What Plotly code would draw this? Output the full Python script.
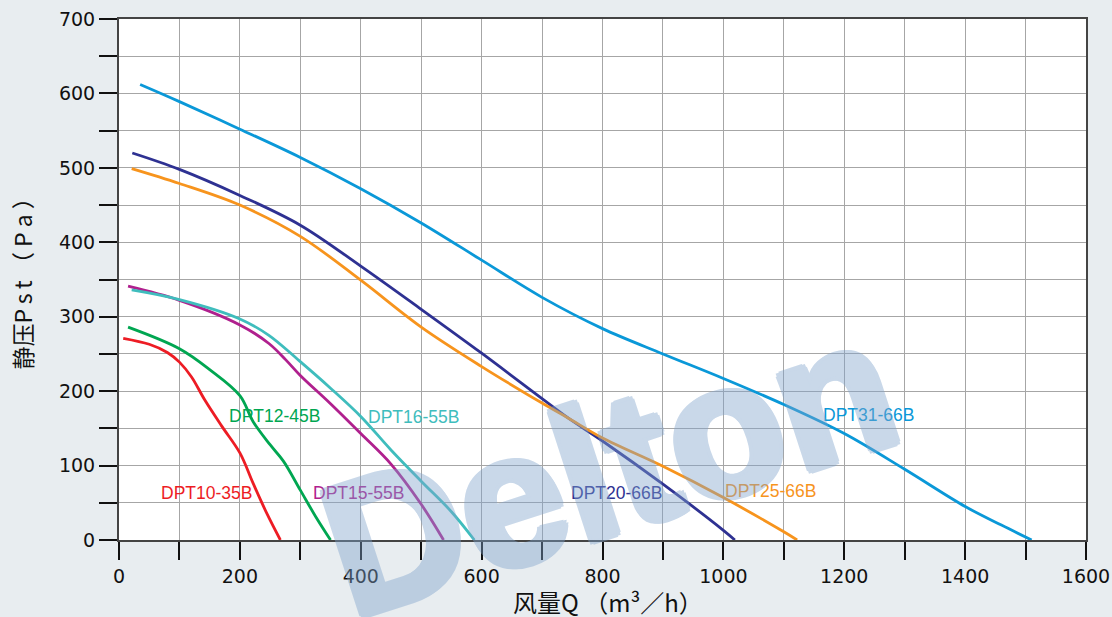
import plotly.graph_objects as go

# ---- data ----
q10 = [7, 50, 80, 100, 120, 142, 170, 200, 222, 245, 267]
p10 = [271, 263, 252, 239, 219, 188, 153, 117, 76, 35, 0]

q12 = [15, 100, 150, 200, 222, 250, 272, 300, 325, 350]
p12 = [286, 257, 229, 194, 159, 128, 106, 67, 32, 0]

q15 = [15, 100, 200, 248, 276, 300, 350, 400, 450, 500, 537]
p15 = [341, 322, 289, 264, 242, 221, 183, 143, 102, 48, 0]

q16 = [21, 100, 200, 248, 298, 350, 400, 450, 500, 550, 588]
p16 = [336, 323, 297, 275, 241, 204, 166, 121, 79, 38, 0]

q20 = [22, 100, 200, 300, 400, 500, 600, 700, 743, 800, 900, 1000, 1019]
p20 = [520, 498, 463, 423, 368, 310, 251, 190, 164, 133, 75, 13, 0]

q25 = [21, 100, 200, 300, 400, 500, 600, 700, 743, 800, 900, 1000, 1100, 1122]
p25 = [499, 479, 450, 408, 349, 286, 233, 184, 164, 137, 99, 57, 11, 0]

q31 = [35, 100, 200, 300, 400, 500, 600, 700, 800, 900, 1000, 1100, 1200, 1300, 1400, 1460, 1510]
p31 = [612, 589, 552, 514, 472, 426, 376, 326, 284, 250, 217, 182, 143, 95, 45, 20, 0]

series_names = ["DPT10-35B", "DPT12-45B", "DPT15-55B", "DPT16-55B", "DPT20-66B", "DPT25-66B", "DPT31-66B"]
series_q = [q10, q12, q15, q16, q20, q25, q31]
series_p = [p10, p12, p15, p16, p20, p25, p31]
colors = ["#ed1c24", "#00a651", "#b0208e", "#3fbdbd", "#2e3192", "#f7941d", "#0a98d8"]
label_q = [144, 258, 397, 487, 823, 1078, 1240]
label_p = [63, 167, 63, 165, 63, 66, 168]

x_title = "风量Q （m³／h）"
y_title = "静压P\u2009s\u2009t （ P a ）"
watermark = "Delton"

fig = go.Figure()
for name, qs, ps, c in zip(series_names, series_q, series_p, colors):
    fig.add_trace(go.Scatter(x=qs, y=ps, mode="lines", name=name,
                             line=dict(color=c, width=2.8, shape="spline", smoothing=1.0),
                             showlegend=False, hoverinfo="skip"))

for name, lq, lp, c in zip(series_names, label_q, label_p, colors):
    fig.add_annotation(x=lq, y=lp, xref="x", yref="y", text=name, showarrow=False,
                       xanchor="center", yanchor="middle",
                       font=dict(family="Liberation Sans, Arial", size=17.5, color=c))

wm_c = "#7fa3cc"
shadow = ", ".join(f"{dx}px {dy}px 0 {wm_c}" for dx, dy in
                   [(4, 0), (-4, 0), (0, 4), (0, -4), (3, 3), (-3, 3), (3, -3), (-3, -3)])
fig.add_annotation(x=0.507, y=0.14, xref="paper", yref="paper", text=watermark, showarrow=False,
                   xanchor="center", yanchor="middle", textangle=-18, opacity=0.42,
                   font=dict(family="Liberation Sans, Arial", size=188, weight="bold",
                             color=wm_c, shadow=shadow))

fig.add_annotation(x=0.5057, y=-0.119, xref="paper", yref="paper", text=x_title, showarrow=False,
                   xanchor="center", yanchor="middle",
                   font=dict(family="Noto Sans CJK SC", size=24, color="#111"))
fig.add_annotation(x=-0.1003, y=0.502, xref="paper", yref="paper", text=y_title, showarrow=False,
                   xanchor="center", yanchor="middle", textangle=-90,
                   font=dict(family="Noto Sans CJK SC", size=23, color="#111"))

grid_c = "#a6a6a6"
axis_common = dict(showline=True, linecolor="#444", linewidth=2, mirror=True, zeroline=False,
                   ticks="outside", ticklen=18, tickwidth=1.5, tickcolor="#111", automargin=False,
                   showgrid=True, gridcolor=grid_c, gridwidth=1.3,
                   tickfont=dict(family="DejaVu Sans", size=19, color="#111"))

fig.update_xaxes(range=[0, 1600], tick0=0, dtick=200,
                 minor=dict(dtick=100, ticks="outside", ticklen=18, tickcolor="#111", tickwidth=1.5,
                            showgrid=True, gridcolor=grid_c, gridwidth=1.3),
                 **axis_common)
fig.update_yaxes(range=[0, 700], tick0=0, dtick=100,
                 minor=dict(dtick=50, ticks="outside", ticklen=18, tickcolor="#111", tickwidth=1.5,
                            showgrid=True, gridcolor=grid_c, gridwidth=1.3),
                 **axis_common)

fig.update_layout(width=1112, height=617, autosize=False,
                  margin=dict(l=119, r=26, t=19, b=77),
                  paper_bgcolor="#e8edf0", plot_bgcolor="#ffffff")

fig.write_html("out.html", config={"displayModeBar": False},
               post_script="document.body.style.margin='0';document.body.style.overflow='hidden';")
